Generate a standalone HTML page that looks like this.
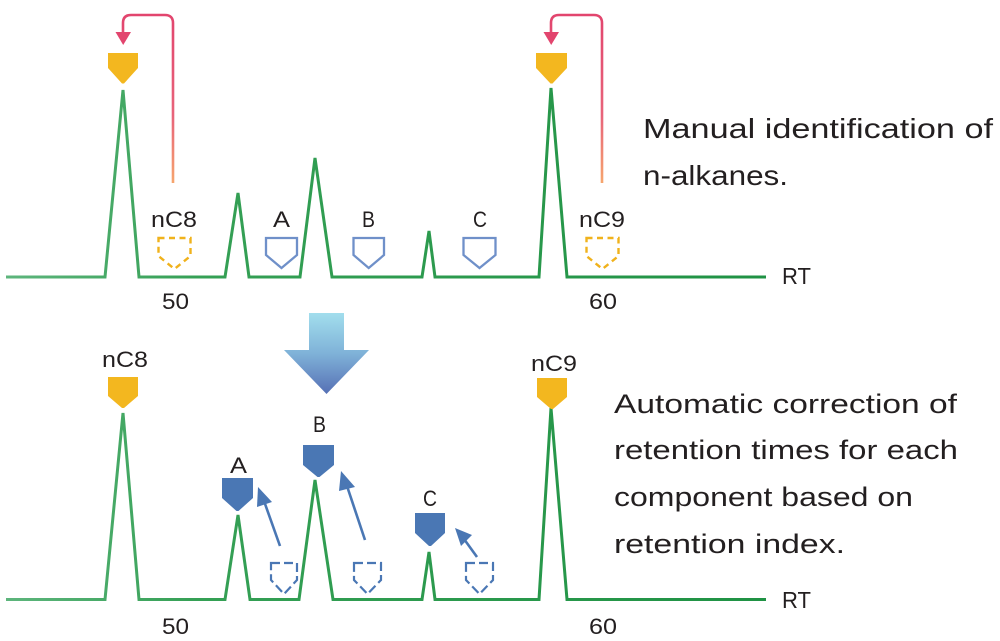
<!DOCTYPE html>
<html>
<head>
<meta charset="utf-8">
<style>
html,body{margin:0;padding:0;background:#fff;}
svg{display:block;}
text{font-family:"Liberation Sans",sans-serif;fill:#231f20;}
</style>
</head>
<body>
<svg width="1000" height="641" viewBox="0 0 1000 641" xmlns="http://www.w3.org/2000/svg">
<defs>
<linearGradient id="gl" x1="0" y1="0" x2="1" y2="0">
<stop offset="0" stop-color="#5db57c"/>
<stop offset="0.25" stop-color="#35a055"/>
<stop offset="1" stop-color="#1f9244"/>
</linearGradient>
<linearGradient id="red1" gradientUnits="userSpaceOnUse" x1="0" y1="15" x2="0" y2="183">
<stop offset="0" stop-color="#e2456e"/>
<stop offset="0.6" stop-color="#e8647a"/>
<stop offset="1" stop-color="#f6a56e"/>
</linearGradient>
<linearGradient id="big" x1="0" y1="0" x2="0" y2="1">
<stop offset="0" stop-color="#a2deed"/>
<stop offset="0.5" stop-color="#7fb2d8"/>
<stop offset="1" stop-color="#5670b5"/>
</linearGradient>
</defs>

<!-- top chromatogram -->
<polyline fill="none" stroke="url(#gl)" stroke-width="3" stroke-linejoin="miter"
 points="6,277 105,277 123,90 139,277 225,277 238,193 249,277 300,277 315,158 332,277 422,277 429,231 435,277 539,277 551,88 567,277 766,277"/>

<!-- bottom chromatogram -->
<polyline fill="none" stroke="url(#gl)" stroke-width="3" stroke-linejoin="miter"
 points="6,599.5 105,599.5 123,413 139,599.5 225,599.5 238,515 250,599.5 299,599.5 315,480 333,599.5 422,599.5 429,552 435,599.5 539,599.5 551,408 567,599.5 766,599.5"/>

<!-- red arrows -->
<path d="M173,183 V23 Q173,15 165,15 H131 Q123,15 123,23 V33" fill="none" stroke="url(#red1)" stroke-width="2.6"/>
<polygon points="115.5,32 131,32 123.2,45" fill="#e2456e"/>
<path d="M602,183 V23 Q602,15 594,15 H559 Q551,15 551,23 V33" fill="none" stroke="url(#red1)" stroke-width="2.6"/>
<polygon points="543.5,32 559,32 551.2,45" fill="#e2456e"/>

<!-- top yellow markers -->
<path d="M108,53 H138 V68 L124,83.5 H122 L108,68 Z" fill="#f3b71f"/>
<path d="M536,53 H567 V68 L552.5,83.5 H550.5 L536,68 Z" fill="#f3b71f"/>

<!-- top dashed yellow shields -->
<path d="M158.5,238 H190.5 V256 L174.5,269 L158.5,256 Z" fill="none" stroke="#f0b21c" stroke-width="2.4" stroke-dasharray="6 4.5"/>
<path d="M586.5,238 H618.5 V256 L602.5,269 L586.5,256 Z" fill="none" stroke="#f0b21c" stroke-width="2.4" stroke-dasharray="6 4.5"/>

<!-- top outline blue shields -->
<path d="M266,238 H297 V255 L281.5,268 L266,255 Z" fill="none" stroke="#6f90c9" stroke-width="2.3"/>
<path d="M353.5,238 H384 V255 L368.7,268 L353.5,255 Z" fill="none" stroke="#6f90c9" stroke-width="2.3"/>
<path d="M463.5,238 H495.5 V255 L479.5,268 L463.5,255 Z" fill="none" stroke="#6f90c9" stroke-width="2.3"/>

<!-- top labels -->
<text x="151" y="227" font-size="22" textLength="46" lengthAdjust="spacingAndGlyphs">nC8</text>
<text x="273" y="227" font-size="22" textLength="17" lengthAdjust="spacingAndGlyphs">A</text>
<text x="362" y="227" font-size="22" textLength="13" lengthAdjust="spacingAndGlyphs">B</text>
<text x="473" y="227" font-size="22" textLength="14" lengthAdjust="spacingAndGlyphs">C</text>
<text x="579" y="227" font-size="22" textLength="46" lengthAdjust="spacingAndGlyphs">nC9</text>
<text x="162" y="309" font-size="22" textLength="27" lengthAdjust="spacingAndGlyphs">50</text>
<text x="589" y="309" font-size="22" textLength="28" lengthAdjust="spacingAndGlyphs">60</text>
<text x="782" y="284" font-size="23" textLength="29" lengthAdjust="spacingAndGlyphs">RT</text>

<!-- top description -->
<text x="643" y="138" font-size="28" textLength="350" lengthAdjust="spacingAndGlyphs">Manual identification of</text>
<text x="643" y="185" font-size="28" textLength="145" lengthAdjust="spacingAndGlyphs">n-alkanes.</text>

<!-- big arrow -->
<polygon points="309,313 344,313 344,350 369,350 326.5,394 284,350 309,350" fill="url(#big)"/>

<!-- bottom yellow markers -->
<path d="M108,377 H138 V396 L124,408 H122 L108,396 Z" fill="#f3b71f"/>
<path d="M537,378 H567 V397 L553,409 H551 L537,397 Z" fill="#f3b71f"/>

<!-- bottom blue filled markers -->
<path d="M222,478 H253 V498 L238.5,511 H236.5 L222,498 Z" fill="#4a77b4"/>
<path d="M303,445 H334 V465 L319.5,477 H317.5 L303,465 Z" fill="#4a77b4"/>
<path d="M415,513 H445 V533 L431,546 H429 L415,533 Z" fill="#4a77b4"/>

<!-- bottom dashed blue shields -->
<path d="M271,563 H297 V580 L284,594 L271,580 Z" fill="none" stroke="#4a77b4" stroke-width="2.2" stroke-dasharray="9 4"/>
<path d="M354,563 H381 V580 L367.5,594 L354,580 Z" fill="none" stroke="#4a77b4" stroke-width="2.2" stroke-dasharray="9 4"/>
<path d="M466,563 H493 V580 L479.5,594 L466,580 Z" fill="none" stroke="#4a77b4" stroke-width="2.2" stroke-dasharray="9 4"/>

<!-- blue arrows -->
<line x1="280" y1="546" x2="264" y2="501" stroke="#4a77b4" stroke-width="2.6"/>
<polygon points="258,487 272,502 257,507" fill="#4a77b4"/>
<line x1="365" y1="540" x2="347" y2="486" stroke="#4a77b4" stroke-width="2.6"/>
<polygon points="341,471 355,487 339,491" fill="#4a77b4"/>
<line x1="477" y1="557" x2="464" y2="539" stroke="#4a77b4" stroke-width="2.6"/>
<polygon points="455,528 472,535 461,546" fill="#4a77b4"/>

<!-- bottom labels -->
<text x="102" y="367" font-size="22" textLength="46" lengthAdjust="spacingAndGlyphs">nC8</text>
<text x="531" y="371" font-size="22" textLength="46" lengthAdjust="spacingAndGlyphs">nC9</text>
<text x="230" y="473" font-size="22" textLength="17" lengthAdjust="spacingAndGlyphs">A</text>
<text x="313" y="432" font-size="22" textLength="13" lengthAdjust="spacingAndGlyphs">B</text>
<text x="423" y="506" font-size="22" textLength="14" lengthAdjust="spacingAndGlyphs">C</text>
<text x="162" y="634" font-size="22" textLength="27" lengthAdjust="spacingAndGlyphs">50</text>
<text x="589" y="634" font-size="22" textLength="28" lengthAdjust="spacingAndGlyphs">60</text>
<text x="782" y="608" font-size="23" textLength="29" lengthAdjust="spacingAndGlyphs">RT</text>

<!-- bottom description -->
<text x="614" y="413" font-size="27" textLength="343" lengthAdjust="spacingAndGlyphs">Automatic correction of</text>
<text x="614" y="459" font-size="27" textLength="344" lengthAdjust="spacingAndGlyphs">retention times for each</text>
<text x="614" y="506" font-size="27" textLength="299" lengthAdjust="spacingAndGlyphs">component based on</text>
<text x="614" y="553" font-size="27" textLength="231" lengthAdjust="spacingAndGlyphs">retention index.</text>
</svg>
</body>
</html>
